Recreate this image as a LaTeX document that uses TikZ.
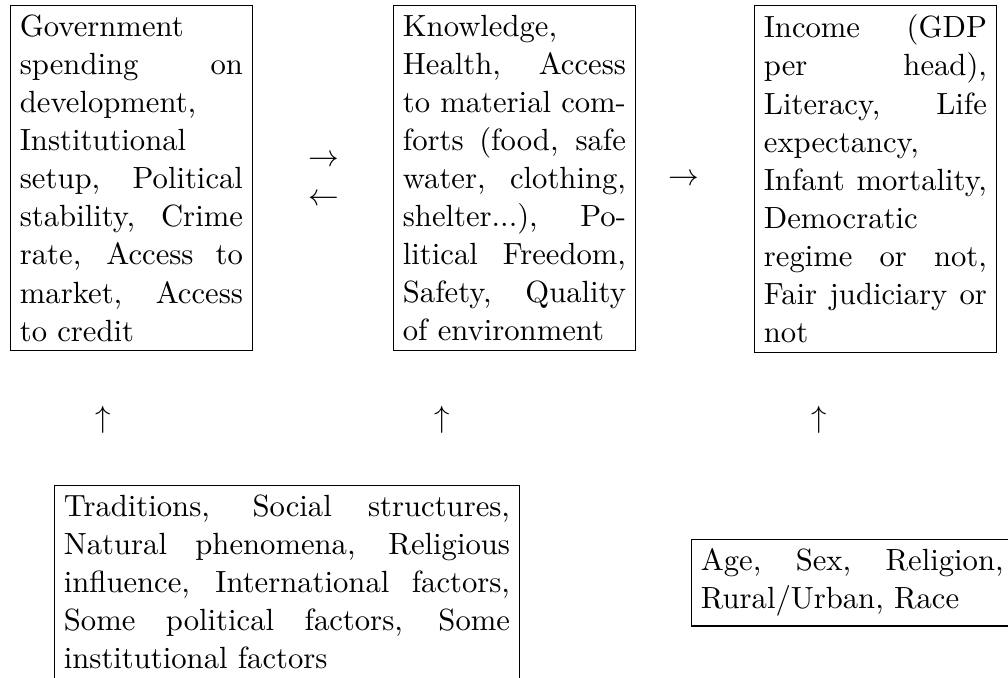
\documentclass[tikz,border=0pt]{standalone}
\usepackage{tikz}
% words that stay whole in the outcome box
\hyphenation{literacy expectancy infant mortality democratic regime judiciary income}
\tikzset{
  factor/.style={draw, anchor=north west, align=justify,
    font=\fontsize{10.95}{13.6}\selectfont},
  glyph/.style={anchor=base, inner sep=0pt,
    font=\fontsize{10.95}{13.6}\selectfont}
}
\begin{document}
\begin{tikzpicture}[x=0.35714pt, y=-0.35714pt]
\useasboundingbox (0,0) rectangle (1008,677);
% top row of boxes
\node[factor, text width=2.8cm] (inputs) at (10,5) {Government spending on development, Institutional setup, Political stability, Crime rate, Access to market, Access to credit};
\node[factor, text width=2.8cm] (wellbeing) at (393,5) {Knowledge, Health, Access to material comforts (food, safe water, clothing, shelter...), Political Freedom, Safety, Quality of environment};
\node[factor, text width=2.8cm] (outcomes) at (754,5) {Income (GDP per head), Literacy, Life expectancy, Infant mortality, Democratic regime or not, Fair judiciary or not};
% bottom row of boxes
\node[factor, text width=5.6cm] (context) at (54,485) {Traditions, Social structures, Natural phenomena, Religious influence, International factors, Some political factors, Some institutional factors};
\node[factor, text width=3.8cm] (personal) at (691,539) {Age, Sex, Religion, Rural/Urban, Race};
% arrows between the boxes
\node[glyph] (fwdA) at (324,166) {$\rightarrow$};
\node[glyph] (backA) at (324,205) {$\leftarrow$};
\node[glyph] (fwdB) at (684,185) {$\rightarrow$};
\node[glyph] (upA) at (103,427) {$\uparrow$};
\node[glyph] (upB) at (442,427) {$\uparrow$};
\node[glyph] (upC) at (819,427) {$\uparrow$};
\end{tikzpicture}
\end{document}
